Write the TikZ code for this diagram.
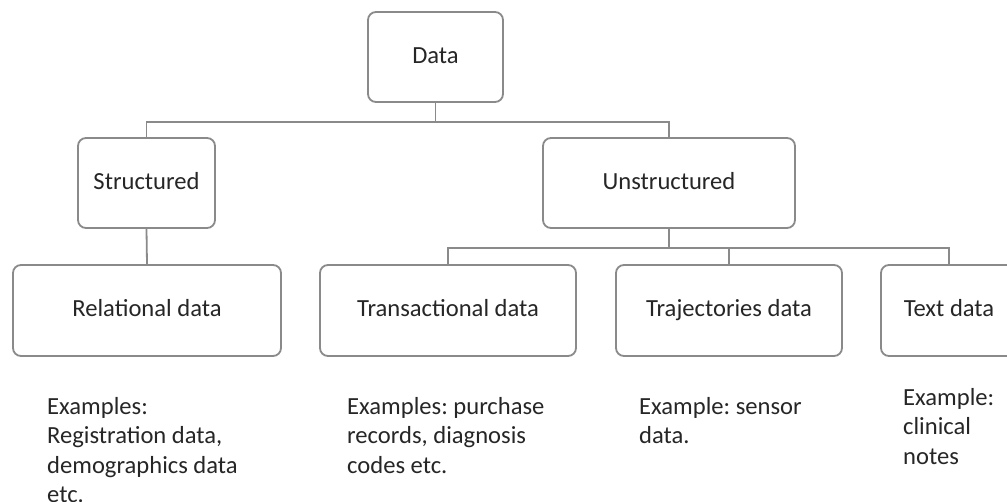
\documentclass[tikz,border=0pt]{standalone}
\usepackage{fontspec}
\setmainfont{Carlito}
\frenchspacing
\begin{document}
\begin{tikzpicture}[x=1pt,y=-1pt,
  box/.style={draw=boxgray,line width=1.8pt,rounded corners=8pt,fill=white,
    minimum height=90pt,inner sep=0pt,text=txt,text height=15pt,text depth=3pt,
    font=\fontsize{24.6}{29.5}\selectfont},
  conn/.style={draw=boxgray,line width=1.8pt},
  note/.style={anchor=north west,inner sep=0pt,align=left,text=txt,
    font=\fontsize{24.6}{29.5}\selectfont}]
\definecolor{boxgray}{HTML}{8A8A8A}
\definecolor{txt}{HTML}{262626}
\useasboundingbox (0,0) rectangle (1007,501);
\node[box,minimum width=135pt] (data) at (435.5,57) {Data};
\node[box,minimum width=137pt] (st) at (146.5,183) {Structured};
\node[box,minimum width=252pt] (un) at (669,183) {Unstructured};
\node[box,minimum width=268pt,minimum height=91pt] (rel) at (147,310.5) {Relational data};
\node[box,minimum width=256pt,minimum height=91pt] (tra) at (448,310.5) {Transactional data};
\node[box,minimum width=226pt,minimum height=91pt] (traj) at (729,310.5) {Trajectories data};
\node[box,minimum width=136pt,minimum height=91pt] (txtd) at (949,310.5) {Text data};
\draw[conn] (data.south) -- ++(0,19) -| (st.north);
\draw[conn] (data.south) -- ++(0,19) -| (un.north);
\draw[conn] (st.south) -- (rel.north);
\draw[conn] (un.south) -- ++(0,19) -| (tra.north);
\draw[conn] (un.south) -- ++(0,19) -| (traj.north);
\draw[conn] (un.south) -- ++(0,19) -| (txtd.north);
\node[note] (n1) at (47,397) {Examples:\\Registration data,\\demographics data\\etc.};
\node[note] (n2) at (347,397) {Examples: purchase\\records, diagnosis\\codes etc.};
\node[note] (n3) at (639,397) {Example: sensor\\data.};
\node[note] (n4) at (903,388) {Example:\\clinical\\notes};
\end{tikzpicture}
\end{document}
